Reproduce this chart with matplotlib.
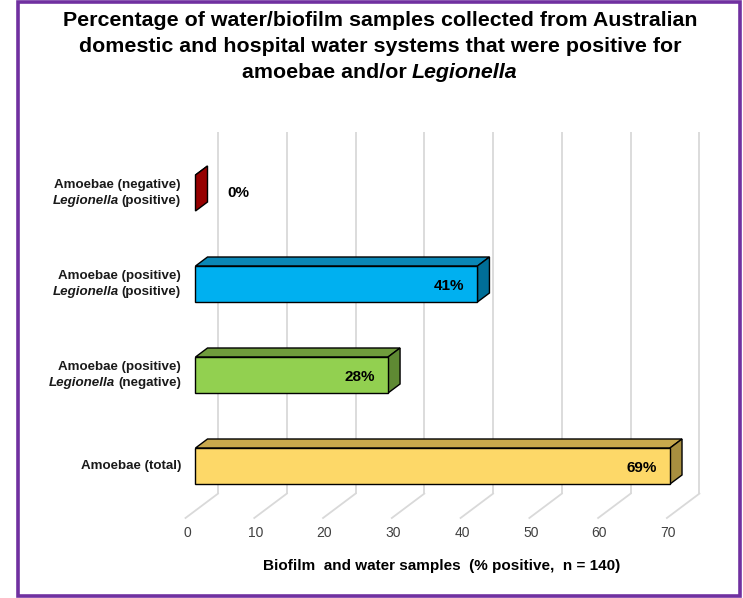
"""
Horizontal 3D-look bar chart: amoebae / Legionella positive samples.
"""

import matplotlib
matplotlib.use("Agg")
from matplotlib import pyplot as plt
from matplotlib.patches import Polygon, Rectangle
from matplotlib.transforms import IdentityTransform
import numpy as np

plt.rcParams['font.family'] = ['Liberation Sans', 'DejaVu Sans']

# Data, top to bottom as shown in the chart.
amoebae_labels = ["Amoebae (negative)", "Amoebae (positive)", "Amoebae (positive)", "Amoebae (total)"]
legionella_labels = ["(positive)", "(positive)", "(negative)", None]
percent = [0, 41, 28, 69]
x_ticks = [0, 10, 20, 30, 40, 50, 60, 70]

front_colors = ["#c00000", "#00b0f0", "#92d050", "#fdd868"]
top_colors = ["#a00000", "#0a87b6", "#6f9c3c", "#c7a84c"]
side_colors = ["#960000", "#006e97", "#5f8a33", "#a88f3f"]

W, H = 743, 598
fig = plt.figure(figsize=(W / 100, H / 100), dpi=100)
ax = fig.add_axes([0, 0, 1, 1])

# Pixel layout -> data limits (x in %, y in category slots).
px_per_pct = 6.877
x0_px = 195.5
px_per_slot = 91.0
y0_px = 466.0
ax.set_xlim(-x0_px / px_per_pct, (W - x0_px) / px_per_pct)
ax.set_ylim((y0_px - H) / px_per_slot, y0_px / px_per_slot)
ax.axis("off")

# Oblique depth: one bar depth in data units.
DX = 12 / px_per_pct
DY = 9 / px_per_slot
D_FRONT, D_BACK = -0.833, 1.875     # floor front edge and back wall (in bar depths)
half = 18 / px_per_slot
floor_y = -0.489
top_y = (y0_px - 132) / px_per_slot

grid_c = "#d9d9d9"
for v in x_ticks:
    bx, by = v + D_BACK * DX, floor_y + D_BACK * DY
    fx, fy = v + D_FRONT * DX, floor_y + D_FRONT * DY
    ax.plot([bx, bx], [by, top_y], color=grid_c, lw=1.3, zorder=1, solid_capstyle="butt")
    ax.plot([bx, fx], [by, fy], color=grid_c, lw=1.3, zorder=1)
    ax.text(fx + 0.2, floor_y - 0.245, str(v), ha="center", va="center",
            fontsize=10, color="#404040")

n = len(percent)
for i, v in enumerate(percent):
    c = n - 1 - i
    lo, hi = c - half, c + half
    z = 3 + i
    top = [(0, hi), (v, hi), (v + DX, hi + DY), (DX, hi + DY)]
    side = [(v, lo), (v, hi), (v + DX, hi + DY), (v + DX, lo + DY)]
    ax.add_patch(Polygon(top, closed=True, fc=top_colors[i], ec="black", lw=1.0, zorder=z))
    ax.add_patch(Polygon(side, closed=True, fc=side_colors[i], ec="black", lw=1.0, zorder=z))
    if v > 0:
        ax.add_patch(Rectangle((0, lo), v, hi - lo, fc=front_colors[i], ec="black", lw=1.0, zorder=z))
        ax.text(v - 1.95, c - 0.02, f"{v}%", ha="right", va="center",
                fontsize=11, fontweight="bold", zorder=10)
    else:
        ax.text(v + 4.7, c, f"{v}%", ha="left", va="center",
                fontsize=11, fontweight="bold", zorder=10)

renderer = fig.canvas.get_renderer()


def rich_text(x, y, parts, ha="left", transform=None, gap=0.0, **kw):
    """Draw mixed-style text pieces on one line, positioned in data or given coords."""
    texts = [ax.text(0, 0, s, va="center", ha="left", **kw, **st) for s, st in parts]
    widths = [t.get_window_extent(renderer).width + gap for t in texts]
    widths[-1] -= gap
    total = sum(widths)
    tr = transform if transform is not None else ax.transData
    xd, yd = tr.transform((x, y))
    start = xd - total / 2 if ha == "center" else (xd - total if ha == "right" else xd)
    for t, w in zip(texts, widths):
        t.set_transform(IdentityTransform())
        t.set_position((start, yd))
        start += w


lab_kw = dict(fontsize=9.6, fontweight="bold", color="#1a1a1a")
lab_x = (181 - x0_px) / px_per_pct
for i, (a, l) in enumerate(zip(amoebae_labels, legionella_labels)):
    c = n - 1 - i
    if l is None:
        ax.text(lab_x, c, a, ha="right", va="center", **lab_kw)
    else:
        ax.text(lab_x, c + 0.09, a, ha="right", va="center", **lab_kw)
        rich_text(lab_x, c - 0.09, [("Legionella", {"fontstyle": "italic"}), (l, {})],
                  ha="right", gap=3.0, **lab_kw)

# Axis title
ax.text((442 - x0_px) / px_per_pct, (y0_px - 566) / px_per_slot,
        "Biofilm  and water samples  (% positive,  n = 140)",
        ha="center", va="center", fontsize=11, fontweight="bold")

# Chart title
title_kw = dict(fontsize=15.4, fontweight="bold")
fig.text(380 / W, 1 - 21 / H, "Percentage of water/biofilm samples collected from Australian",
         ha="center", va="center", **title_kw)
fig.text(380 / W, 1 - 47 / H, "domestic and hospital water systems that were positive for",
         ha="center", va="center", **title_kw)
rich_text(380 / W, 1 - 73 / H, [("amoebae and/or", {}), ("Legionella", {"fontstyle": "italic"})],
          ha="center", gap=5.0, transform=fig.transFigure, **title_kw)

# Purple frame
fig.patches.append(Rectangle((17.5 / W, 2 / H), 722 / W, 594 / H, transform=fig.transFigure,
                             fill=False, ec="#7030a0", lw=2.6, figure=fig))

fig.savefig("out.png", dpi=100)
